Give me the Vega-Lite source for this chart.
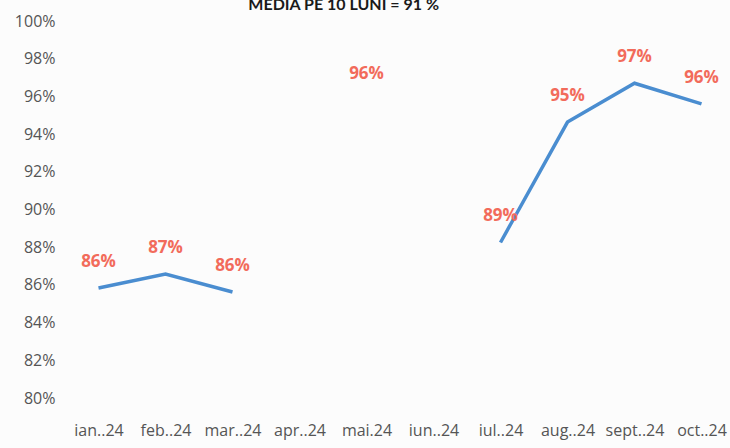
{
  "$schema": "https://vega.github.io/schema/vega-lite/v6.json",
  "autosize": "none",
  "width": 670,
  "height": 377,
  "padding": {"left": 65, "top": 21, "right": 0, "bottom": 50},
  "background": "#fcfcfc",
  "config": {"view": {"stroke": null}},
  "title": {
    "text": "MEDIA PE 10 LUNI = 91 %",
    "font": "Lato",
    "fontSize": 16,
    "fontWeight": "bold",
    "color": "#1a1a1a",
    "anchor": "start",
    "dx": 234,
    "offset": 0,
    "dy": 0
  },
  "data": {
    "values": [
      {"luna": "ian..24", "valoare": 85.84, "eticheta": "86%"},
      {"luna": "feb..24", "valoare": 86.58, "eticheta": "87%"},
      {"luna": "mar..24", "valoare": 85.62, "eticheta": "86%"},
      {"luna": "apr..24", "valoare": null, "eticheta": ""},
      {"luna": "mai.24", "valoare": 95.8, "eticheta": "96%"},
      {"luna": "iun..24", "valoare": null, "eticheta": ""},
      {"luna": "iul..24", "valoare": 88.25, "eticheta": "89%"},
      {"luna": "aug..24", "valoare": 94.64, "eticheta": "95%"},
      {"luna": "sept..24", "valoare": 96.7, "eticheta": "97%"},
      {"luna": "oct..24", "valoare": 95.6, "eticheta": "96%"}
    ]
  },
  "encoding": {
    "x": {
      "field": "luna",
      "type": "nominal",
      "sort": null,
      "axis": {
        "title": null,
        "labelAngle": 0,
        "domain": false,
        "ticks": false,
        "labelPadding": 24,
        "labelFont": "Open Sans",
        "labelFontSize": 16,
        "labelColor": "#555555",
        "labelOverlap": false
      }
    },
    "y": {
      "field": "valoare",
      "type": "quantitative",
      "scale": {"domain": [80, 100], "zero": false},
      "axis": {
        "title": null,
        "labelExpr": "datum.value + '%'",
        "values": [80, 82, 84, 86, 88, 90, 92, 94, 96, 98, 100],
        "domain": false,
        "ticks": false,
        "grid": false,
        "labelPadding": 10,
        "labelFont": "Open Sans",
        "labelFontSize": 16,
        "labelColor": "#555555"
      }
    }
  },
  "layer": [
    {
      "mark": {"type": "line", "color": "#4a8dd0", "strokeWidth": 3.5}
    },
    {
      "mark": {
        "type": "text",
        "color": "#f26b5b",
        "font": "Open Sans",
        "fontSize": 17,
        "fontWeight": "bold",
        "dy": -26
      },
      "encoding": {
        "text": {"field": "eticheta"}
      }
    }
  ]
}
